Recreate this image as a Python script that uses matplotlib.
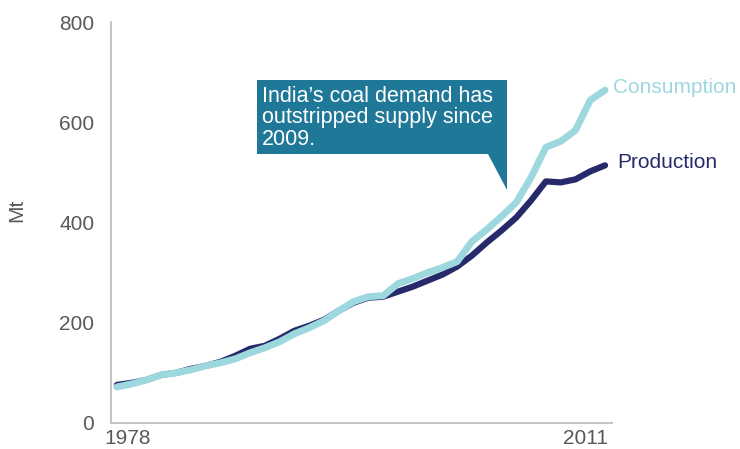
import numpy as np
import matplotlib
matplotlib.use("Agg")
import matplotlib.pyplot as plt
from matplotlib.patches import Polygon

plt.rcParams['font.family'] = ['Liberation Sans', 'DejaVu Sans']

# donnees (Mt)
annees = np.arange(1978, 2012)
production = [76, 80, 86, 96, 100, 108, 114, 122, 134, 148, 154, 168, 184, 194, 206, 224, 240,
              250, 252, 262, 272, 284, 296, 312, 334, 360, 384, 410, 444, 482, 480, 486, 502, 514]
consommation = [72, 78, 86, 96, 100, 106, 114, 120, 128, 140, 150, 162, 178, 190, 204, 224, 242,
                252, 254, 278, 288, 300, 310, 322, 362, 386, 412, 440, 490, 550, 562, 584, 644, 664]

gris = '#595959'
c_prod = '#262a6a'
c_cons = '#9dd8df'
c_boite = '#1f7898'

W, H = 740, 449
fig = plt.figure(figsize=(W / 100, H / 100), dpi=100)
ax = fig.add_axes([111 / W, 1 - 423 / H, (612 - 111) / W, (423 - 22) / H])

ax.plot(annees, production, color=c_prod, lw=4.5, solid_capstyle='round', solid_joinstyle='round')
ax.plot(annees, consommation, color=c_cons, lw=5, solid_capstyle='round', solid_joinstyle='round')

ax.set_xlim(1977.6, 2011.47)
ax.set_ylim(0, 800)
ax.set_yticks([0, 200, 400, 600, 800])
ax.set_xticks([])
ax.tick_params(axis='y', length=0, pad=12, labelsize=15, labelcolor=gris)
for s in ['top', 'right']:
    ax.spines[s].set_visible(False)
for s in ['left', 'bottom']:
    ax.spines[s].set_color('#bfbfbf')
    ax.spines[s].set_linewidth(1.3)

# etiquettes des annees
ax.annotate('1978', xy=(1978, 0), xytext=(-9, -4), textcoords='offset points',
            ha='left', va='top', fontsize=15, color=gris)
ax.annotate('2011', xy=(2011, 0), xytext=(2, -4), textcoords='offset points',
            ha='right', va='top', fontsize=15, color=gris)

fig.text(17 / W, 1 - 210 / H, 'Mt', rotation=90, ha='center', va='center', fontsize=15, color=gris)

# noms des series
ax.annotate('Consumption', xy=(annees[-1], consommation[-1]), xytext=(6, 2), textcoords='offset points',
            ha='left', va='center', fontsize=15, color=c_cons)
ax.annotate('Production', xy=(annees[-1], production[-1]), xytext=(9, 2), textcoords='offset points',
            ha='left', va='center', fontsize=15, color=c_prod)

# bulle
pts = [(257, 80), (507, 80), (507, 190), (488, 154), (257, 154)]
pts = [(x / W, 1 - y / H) for x, y in pts]
fig.patches.append(Polygon(pts, closed=True, transform=fig.transFigure, facecolor=c_boite, edgecolor='none'))
fig.text(262 / W, 1 - 86 / H, "India\u2019s coal demand has\noutstripped supply since\n2009.",
         ha='left', va='top', fontsize=15.5, color='white', linespacing=1.02)

fig.savefig('out.png', dpi=100)
